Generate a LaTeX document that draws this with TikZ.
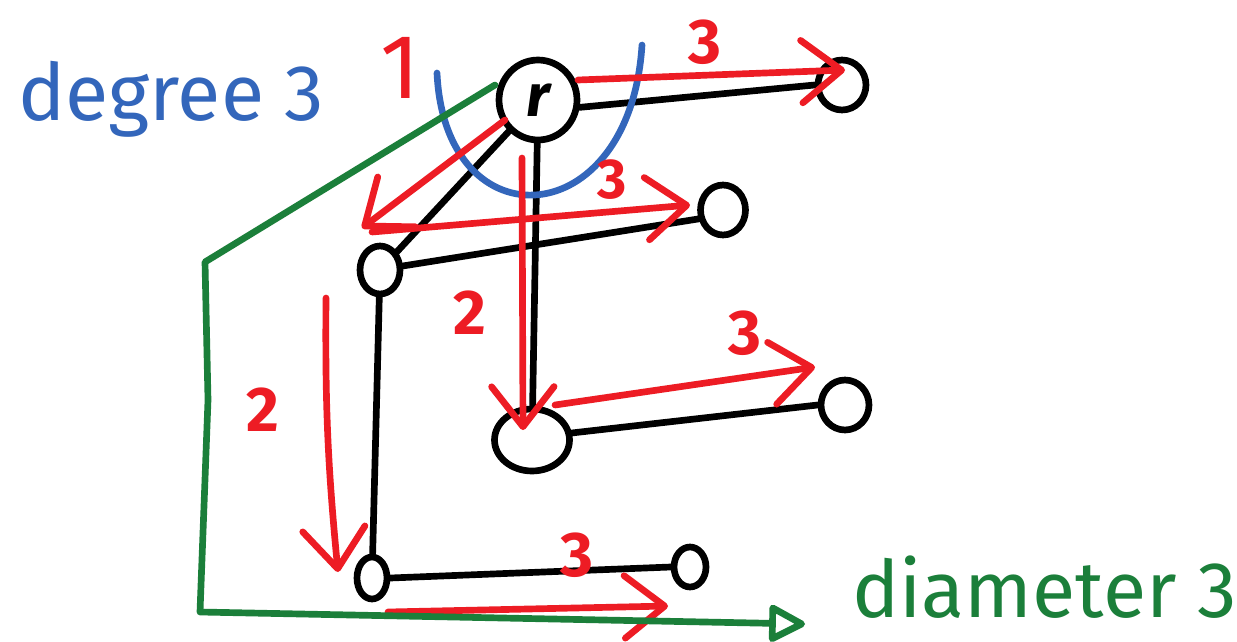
\documentclass[tikz,border=0pt]{standalone}
\usepackage{fontspec}
\setmainfont{Fira Sans}
\usetikzlibrary{arrows.meta,shapes.geometric}
\definecolor{inkred}{RGB}{237,28,36}
\definecolor{inkblue}{RGB}{51,102,187}
\definecolor{inkgreen}{RGB}{27,127,58}
\begin{document}
\begin{tikzpicture}[x=0.02cm,y=-0.02cm,line cap=round,line join=round,
  vertex/.style={draw=black,line width=3.8pt,ellipse,inner sep=0pt},
  edge/.style={black,line width=3.8pt},
  walk/.style={inkred,line width=3.8pt,-{Straight Barb[length=0.8cm,width=1.25cm,round]}},
  walklabel/.style={inkred,font=\fontsize{36}{36}\selectfont\bfseries},
  trail/.style={inkgreen,line width=3.8pt,-{Triangle[open,length=0.8cm,width=0.8cm,round]}},
  note/.style={font=\fontsize{45}{45}\selectfont,anchor=base west}]
\useasboundingbox[fill=white] (0,0) rectangle (1237,642);

% vertices of the tree
\node[vertex,minimum width=1.56cm,minimum height=1.6cm] (r) at (538,100) {\fontsize{34}{34}\selectfont\bfseries\itshape r};
\node[vertex,minimum width=0.96cm,minimum height=1.0cm] (a) at (842,85) {};
\node[vertex,minimum width=0.9cm,minimum height=1.0cm] (b) at (723,210) {};
\node[vertex,minimum width=0.8cm,minimum height=0.96cm] (c) at (380,270) {};
\node[vertex,minimum width=1.5cm,minimum height=1.24cm] (d) at (532,440) {};
\node[vertex,minimum width=0.96cm,minimum height=1.0cm] (e) at (845,405) {};
\node[vertex,minimum width=0.6cm,minimum height=0.84cm] (f) at (372,578) {};
\node[vertex,minimum width=0.64cm,minimum height=0.8cm] (g) at (690,567) {};

% tree edges
\draw[edge] (r.-10) -- (a.west);
\draw[edge] (r) -- (c);
\draw[edge] (r) -- (d);
\draw[edge] (c.10) -- (b.200);
\draw[edge] (c) -- (f);
\draw[edge] (d.10) -- (e.west);
\draw[edge] (f.east) -- (g.west);

% degree bracket around the root
\draw[inkblue,line width=3.8pt] (437,73) .. controls (445,245) and (630,235) .. (642,45);
\node[note,text=inkblue] (deg) at (12,120) {degree 3};

% walks from the root, with their lengths
\coordinate (p1) at (578,80);   \coordinate (q1) at (845,70);
\coordinate (p2) at (505,120);  \coordinate (q2) at (362,228);
\coordinate (p3) at (372,232);  \coordinate (q3) at (690,205);
\coordinate (p4) at (522,158);  \coordinate (q4) at (523,430);
\coordinate (p5) at (555,405);  \coordinate (q5) at (815,367);
\coordinate (p6) at (326,298);  \coordinate (q6) at (338,572);
\coordinate (p7) at (388,612);  \coordinate (q7) at (668,606);
\draw[walk] (p1) -- (q1);
\draw[walk] (p2) -- (q2);
\draw[walk] (p3) -- (q3);
\draw[walk] (p4) -- (q4);
\draw[walk] (p5) -- (q5);
\draw[walk] (p6) to[bend right=3] (q6);
\draw[walk] (p7) -- (q7);
\node[walklabel] (l1) at (705,42) {3};
\node[walklabel,font=\fontsize{52}{52}\selectfont] (l2) at (400,68) {1};
\node[walklabel,font=\fontsize{32}{32}\selectfont\bfseries] (l3) at (612,180) {3};
\node[walklabel] (l4) at (470,313) {2};
\node[walklabel] (l5) at (745,333) {3};
\node[walklabel] (l6) at (263,410) {2};
\node[walklabel] (l7) at (577,555) {3};

% longest path, marked as the diameter
\coordinate (s0) at (495,85);
\coordinate (s1) at (205,262);
\coordinate (s2) at (208,400);
\coordinate (s3) at (200,612);
\coordinate (s4) at (805,624);
\draw[trail] (s0) -- (s1) -- (s2) -- (s3) -- (s4);
\node[note,text=inkgreen] (diam) at (846,617) {diameter 3};
\end{tikzpicture}
\end{document}
